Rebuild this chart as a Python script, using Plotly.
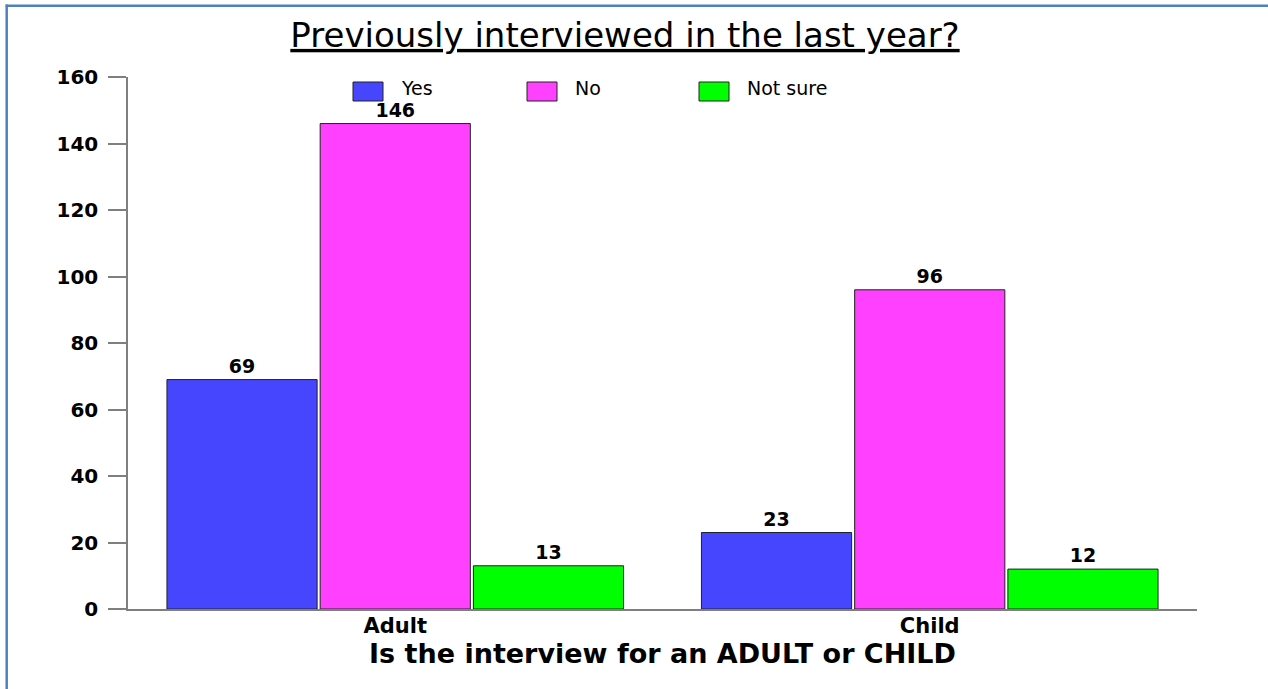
import plotly.graph_objects as go

# Survey counts by interview type
categories = ["Adult", "Child"]
series_names = ["Yes", "No", "Not sure"]
yes_counts = [69, 23]
no_counts = [146, 96]
not_sure_counts = [13, 12]
y_ticks = [0, 20, 40, 60, 80, 100, 120, 140, 160]

series_values = [yes_counts, no_counts, not_sure_counts]
series_colors = ["#4646FF", "#FF40FF", "#00FF00"]

W, H = 1268, 689
L, R, T, B = 128, 71, 77, 80
plot_w = W - L - R
plot_h = H - T - B


def px_x(px):
    return (px - L) / plot_w


def px_y(py):
    return (H - B - py) / plot_h


label_font = dict(family="DejaVu Sans", size=19, color="#000000", weight="bold")

fig = go.Figure()
for name, vals, color in zip(series_names, series_values, series_colors):
    fig.add_trace(go.Bar(
        name=name,
        x=categories,
        y=vals,
        marker=dict(color=color, line=dict(color="#222222", width=1)),
        text=[str(v) for v in vals],
        textposition="outside",
        textfont=label_font,
        cliponaxis=False,
        showlegend=False,
    ))

axis_grey = "#7f7f7f"

fig.update_layout(
    width=W,
    height=H,
    margin=dict(l=L, r=R, t=T, b=B),
    paper_bgcolor="white",
    plot_bgcolor="white",
    barmode="group",
    bargap=0.14,
    bargroupgap=0.02,
    title=dict(
        text="<u>Previously interviewed in the last year?</u>",
        font=dict(family="DejaVu Sans", size=34, color="#000000"),
        x=625 / W,
        xref="container",
        xanchor="center",
        y=1 - 35 / H,
        yref="container",
        yanchor="middle",
    ),
    xaxis=dict(
        range=[-0.5, 1.5],
        showline=True,
        linecolor=axis_grey,
        linewidth=1.5,
        ticks="",
        showgrid=False,
        zeroline=False,
        tickfont=dict(family="DejaVu Sans", size=21, color="#000000", weight="bold"),
        ticklabelstandoff=-3,
        title=dict(
            text="Is the interview for an ADULT or CHILD",
            font=dict(family="DejaVu Sans", size=27, color="#000000", weight="bold"),
            standoff=4,
        ),
    ),
    yaxis=dict(
        range=[0, 160],
        tickvals=y_ticks,
        showline=True,
        linecolor=axis_grey,
        linewidth=1.5,
        ticks="outside",
        ticklen=18,
        tickwidth=1.5,
        tickcolor=axis_grey,
        showgrid=False,
        zeroline=False,
        tickfont=dict(family="DejaVu Sans", size=20, color="#000000", weight="bold"),
        ticklabelstandoff=6,
    ),
)

# Outer frame: top and left edges
frame = dict(color="#4F81BD", width=2.5)
fig.add_shape(type="line", xref="paper", yref="paper",
              x0=px_x(5.6), x1=px_x(W), y0=px_y(5.8), y1=px_y(5.8), line=frame)
fig.add_shape(type="line", xref="paper", yref="paper",
              x0=px_x(6.7), x1=px_x(6.7), y0=px_y(4.6), y1=px_y(H), line=frame)

# Legend row: swatch then label for each series
legend_x = [353, 527, 699]
for name, color, lx in zip(series_names, series_colors, legend_x):
    fig.add_shape(
        type="rect", xref="paper", yref="paper",
        x0=px_x(lx), x1=px_x(lx + 30), y0=px_y(101), y1=px_y(82),
        line=dict(color="#222222", width=1), fillcolor=color,
    )
    fig.add_annotation(
        x=px_x(lx + 47), y=px_y(88), xref="paper", yref="paper",
        text=name, showarrow=False, xanchor="left", yanchor="middle",
        borderpad=0,
        font=dict(family="DejaVu Sans", size=19, color="#000000"),
    )

fig.write_html("out.html")
